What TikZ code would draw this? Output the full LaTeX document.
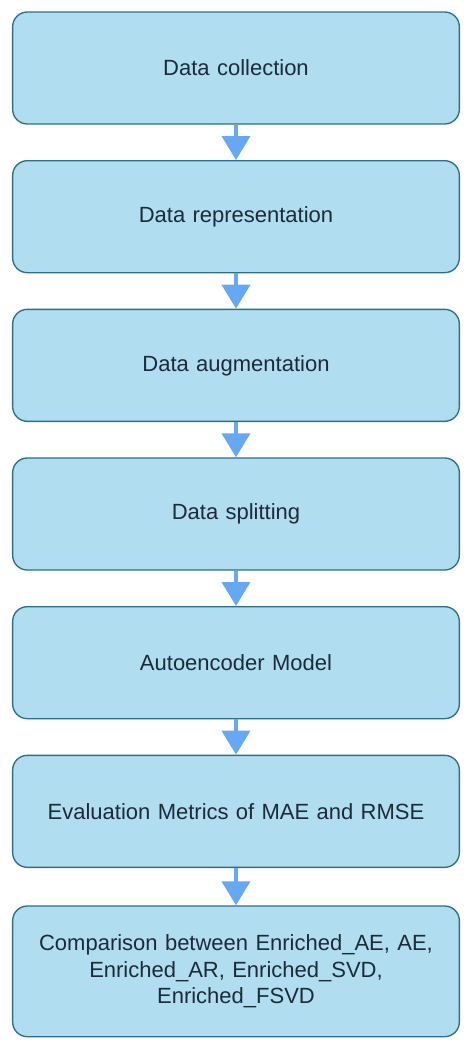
\documentclass[tikz,border=0pt]{standalone}
\usepackage{fontspec}
\setmainfont{Liberation Sans}
\usepackage{tikz}
\usetikzlibrary{arrows.meta}
\usepackage{xcolor}
\definecolor{boxfill}{HTML}{B1DDF0}
\definecolor{boxline}{HTML}{2E6E88}
\definecolor{arrowblue}{HTML}{66A9F2}
\definecolor{boxtext}{HTML}{1C2B38}
\tikzstyle{block} = [rectangle, draw=boxline, line width=1pt, fill=boxfill, text=boxtext, text width=300pt, align=center, rounded corners=11pt, minimum width=335pt, minimum height=84pt, font=\fontsize{16.5}{20}\selectfont]
\tikzstyle{line} = [draw=arrowblue, line width=3pt, -{Triangle[width=21pt,length=18pt]}]

\begin{document}
\begin{tikzpicture}
	%% Data collection
	\node[block](DC){Data collection};
	%% Data representation
	\node[block, below of=DC, node distance=111.5pt](DR){Data representation};
	%% Data augmentation
	\node[block, below of=DR, node distance=111.5pt](DA){Data augmentation};
	%% Data splitting
	\node[block, below of=DA, node distance=111.5pt](DS){Data splitting};
	%% Autoencoder
	\node[block, below of=DS, node distance=111.5pt](AEM){Autoencoder Model};
	%% Metrics
	\node[block, below of=AEM, node distance=111.5pt](EVAL){Evaluation Metrics of MAE and RMSE};
	%% Comparison
	\node[block, below of=EVAL, node distance=120pt, minimum height=98pt](CMP){Comparison between Enriched\_AE, AE,\\ Enriched\_AR, Enriched\_SVD,\\ Enriched\_FSVD};
	%% edges
	\path[line](DC) -- (DR);
	\path[line](DR) -- (DA);
	\path[line](DA) -- (DS);
	\path[line](DS) -- (AEM);
	\path[line](AEM) -- (EVAL);
	\path[line](EVAL) -- (CMP);
	%% margins
	\useasboundingbox ([xshift=-177pt,yshift=51pt]DC.center) rectangle ([xshift=178.5pt,yshift=-734.25pt]DC.center);
\end{tikzpicture}
\end{document}
